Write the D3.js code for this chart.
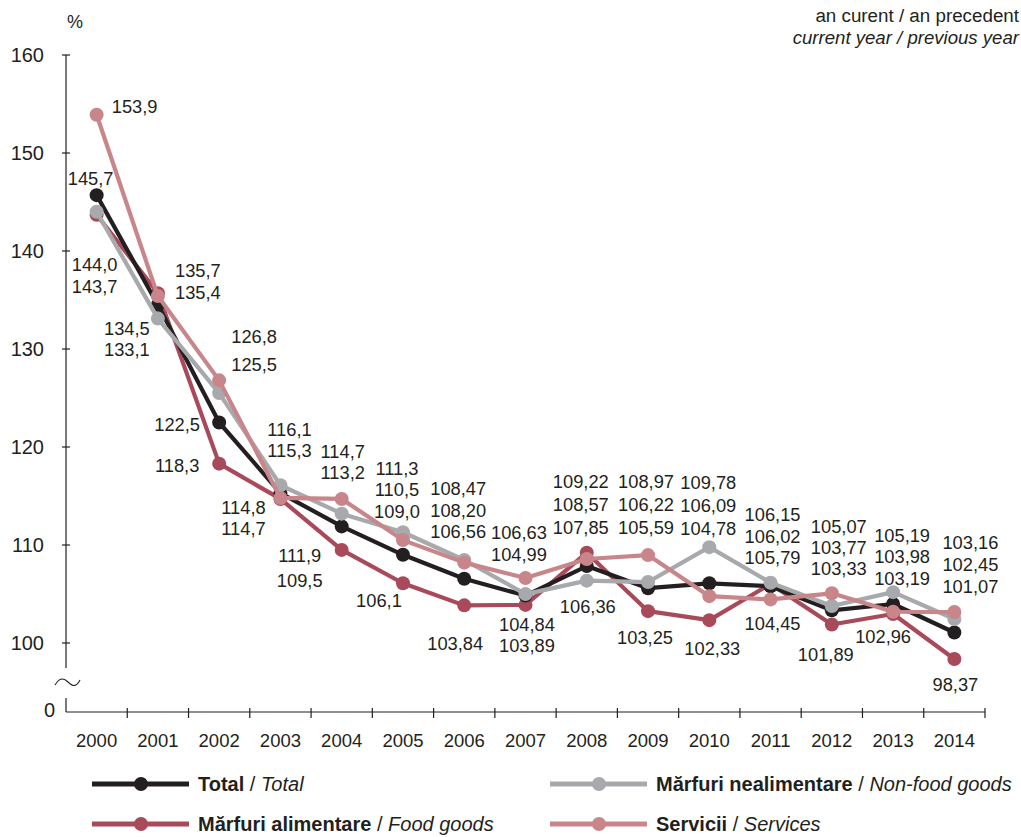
<!DOCTYPE html>
<html><head><meta charset="utf-8">
<script src="https://cdn.jsdelivr.net/npm/d3@7"></script>
<style>
html,body{margin:0;padding:0;background:#fff;}
svg text{font-family:"Liberation Sans",Arial,Helvetica,sans-serif;fill:#231f20;}
</style></head>
<body><svg id="c" width="1021" height="837"></svg>
<script>
const years = ["2000","2001","2002","2003","2004","2005","2006","2007","2008","2009","2010","2011","2012","2013","2014"];
const totalVals    = [145.7,134.5,122.5,115.3,111.9,109.0,106.56,104.84,107.85,105.59,106.09,105.79,103.33,103.98,101.07];
const foodVals     = [143.7,135.7,118.3,114.7,109.5,106.1,103.84,103.89,109.22,103.25,102.33,106.02,101.89,102.96,98.37];
const nonFoodVals  = [144.0,133.1,125.5,116.1,113.2,111.3,108.47,104.99,106.36,106.22,109.78,106.15,103.77,105.19,102.45];
const servicesVals = [153.9,135.4,126.8,114.8,114.7,110.5,108.20,106.63,108.57,108.97,104.78,104.45,105.07,103.19,103.16];
const yTicks = [100,110,120,130,140,150,160];
const decimals = [1,1,1,1,1,1,2,2,2,2,2,2,2,2,2];

const seriesNames = [
  {key:"food", bold:"Mărfuri alimentare", ital:"Food goods"},
  {key:"total", bold:"Total", ital:"Total"},
  {key:"nonfood", bold:"Mărfuri nealimentare", ital:"Non-food goods"},
  {key:"services", bold:"Servicii", ital:"Services"}
];
const seriesValues = {food:foodVals,total:totalVals,nonfood:nonFoodVals,services:servicesVals};
const colors = {total:"#231f20", food:"#a94a5b", nonfood:"#a7a9ac", services:"#c9868a"};

// label blocks per year: [count, dx, dy (from first value's point), line gap]
const labelBlocks = [
  [[1,38,-8,0],[1,-6,-17,0],[2,-2,53,22]],
  [[2,40,-23,22],[2,-31,24,21]],
  [[2,35,-44,28],[2,-42,2.5,41]],
  [[2,9,-56,21],[2,-37,10,21]],
  [[2,1,-47,21],[2,-42,29,25]],
  [[3,-6,-64,21.5],[1,-24,17,0]],
  [[3,-6,-71,21.5],[1,-9,38,0]],
  [[2,-6.5,-45,22],[2,1.5,29,21]],
  [[3,-6,-71,23],[1,1,26,0]],
  [[3,-2,-73,23],[1,-3,26,0]],
  [[3,-1,-65,23],[1,3,28,0]],
  [[3,2,-68,21.5],[1,2,24,0]],
  [[3,7,-67,21],[1,-6,30,0]],
  [[3,9,-57,21.5],[1,-10,23,0]],
  [[3,16,-69,22],[1,1,26,0]]
];

const svg = d3.select("#c");
const x0 = 66, x1 = 985, axisY = 712;
const x = d3.scaleBand().domain(years).range([x0,x1]).padding(0);
const y = d3.scaleLinear().domain([100,160]).range([643,55]);
const cx = d => x(d) + x.bandwidth()/2;

// Y axis (broken)
const gA = svg.append("g");
gA.append("line").attr("x1",x0).attr("x2",x0).attr("y1",y(160)).attr("y2",668).attr("stroke","#231f20").attr("stroke-width",1.2);
gA.append("line").attr("x1",x0).attr("x2",x0).attr("y1",698).attr("y2",axisY).attr("stroke","#231f20").attr("stroke-width",1.2);
gA.append("path").attr("d","M55,685 C60,677 64,678 68,682 C72,686 76,688 80,680").attr("fill","none").attr("stroke","#231f20").attr("stroke-width",1.1);
yTicks.forEach(t=>{
  gA.append("line").attr("x1",x0-4).attr("x2",x0+4).attr("y1",y(t)).attr("y2",y(t)).attr("stroke","#231f20").attr("stroke-width",1.2);
  gA.append("text").attr("x",44).attr("y",y(t)).attr("dy","0.35em").attr("text-anchor","end").attr("font-size",20).text(t);
});
gA.append("text").attr("x",55).attr("y",axisY-2).attr("dy","0.35em").attr("text-anchor","end").attr("font-size",20).text("0");
gA.append("text").attr("x",75).attr("y",22).attr("dy","0.35em").attr("text-anchor","middle").attr("font-size",18).text("%");

// X axis
gA.append("line").attr("x1",x0).attr("x2",x1).attr("y1",axisY).attr("y2",axisY).attr("stroke","#231f20").attr("stroke-width",1.2);
years.forEach((yr,i)=>{
  const xx = x(yr)+x.bandwidth();
  gA.append("line").attr("x1",xx).attr("x2",xx).attr("y1",axisY-4).attr("y2",axisY+6).attr("stroke","#231f20").attr("stroke-width",1.2);
  gA.append("text").attr("x",cx(yr)).attr("y",741).attr("dy","0.35em").attr("text-anchor","middle").attr("font-size",18.5).text(yr);
});

// Lines and markers
const line = d3.line().x((d,i)=>cx(years[i])).y(d=>y(d));
seriesNames.forEach(s=>{
  const vals = seriesValues[s.key];
  const g = svg.append("g");
  g.append("path").datum(vals).attr("d",line).attr("fill","none").attr("stroke",colors[s.key]).attr("stroke-width",4.2).attr("stroke-linejoin","round");
  g.selectAll("circle").data(vals).enter().append("circle")
    .attr("cx",(d,i)=>cx(years[i])).attr("cy",d=>y(d)).attr("r",7).attr("fill",colors[s.key]);
});

// Data labels
const fmt = (v,dec)=> v.toFixed(dec).replace(".",",");
years.forEach((yr,i)=>{
  const vals = [totalVals[i],foodVals[i],nonFoodVals[i],servicesVals[i]].sort((a,b)=>b-a);
  let k = 0;
  labelBlocks[i].forEach(b=>{
    const [n,dx,dy,gap] = b;
    const baseY = y(vals[k]) + dy;
    for(let j=0;j<n;j++){
      svg.append("text").attr("x",cx(yr)+dx).attr("y",baseY+j*gap).attr("dy","0.35em")
        .attr("text-anchor","middle").attr("font-size",18.3).text(fmt(vals[k+j],decimals[i]));
    }
    k += n;
  });
});

// Top-right note
svg.append("text").attr("x",1019).attr("y",15).attr("dy","0.35em").attr("text-anchor","end").attr("font-size",18.8).text("an curent / an precedent");
svg.append("text").attr("x",1019).attr("y",37).attr("dy","0.35em").attr("text-anchor","end").attr("font-size",18.6).attr("font-style","italic").text("current year / previous year");

// Legend
const legendItems = [
  {key:"total", lx:92, ly:784},
  {key:"nonfood", lx:550, ly:784},
  {key:"food", lx:92, ly:824},
  {key:"services", lx:550, ly:824}
];
legendItems.forEach(li=>{
  const s = seriesNames.find(d=>d.key===li.key);
  const g = svg.append("g");
  g.append("line").attr("x1",li.lx).attr("x2",li.lx+97).attr("y1",li.ly).attr("y2",li.ly).attr("stroke",colors[li.key]).attr("stroke-width",5);
  g.append("circle").attr("cx",li.lx+49).attr("cy",li.ly).attr("r",7).attr("fill",colors[li.key]);
  const t = g.append("text").attr("x",li.lx+106).attr("y",li.ly).attr("dy","0.35em").attr("font-size",20);
  t.append("tspan").attr("font-weight","bold").text(s.bold);
  t.append("tspan").text(" / ");
  t.append("tspan").attr("font-style","italic").text(s.ital);
});
</script>
</body></html>
